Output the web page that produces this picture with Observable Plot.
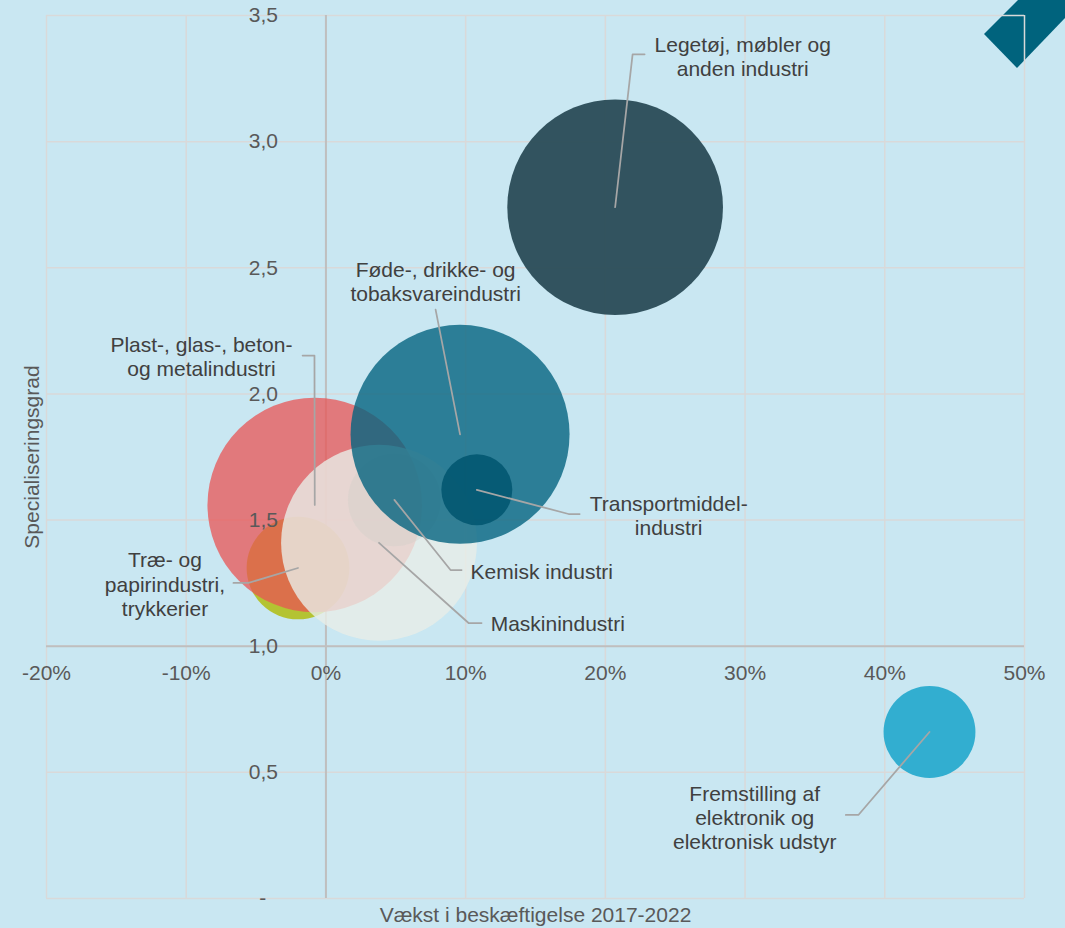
<!DOCTYPE html>
<html>
<head>
<meta charset="utf-8">
<script src="https://cdn.jsdelivr.net/npm/d3@7"></script>
<script src="https://cdn.jsdelivr.net/npm/@observablehq/plot@0.6"></script>
<style>
  body { margin: 0; background: #c9e7f2; }
  #wrap { position: relative; width: 1065px; height: 928px; background: #c9e7f2; overflow: hidden; }
  #logo { position: absolute; left: 0; top: 0; z-index: 0; }
  #chart { position: absolute; left: 0; top: 0; z-index: 1; }
</style>
</head>
<body>
<div id="wrap">
  <svg id="logo" width="1065" height="928"><polygon points="984,34 1018,0 1065,0 1065,18 1017,68" fill="#00637d"/></svg>
  <div id="chart"></div>
</div>
<script>
// ---- Data (drawing order) ----
const names = [
  "Legetøj, møbler og anden industri",
  "Træ- og papirindustri, trykkerier",
  "Plast-, glas-, beton- og metalindustri",
  "Maskinindustri",
  "Kemisk industri",
  "Føde-, drikke- og tobaksvareindustri",
  "Transportmiddelindustri",
  "Fremstilling af elektronik og elektronisk udstyr"
];
const vaekst = [20.7, -2.0, -0.8, 3.8, 4.9, 9.6, 10.8, 43.2];          // % growth in employment 2017-2022
const specialisering = [2.74, 1.31, 1.56, 1.41, 1.58, 1.84, 1.62, 0.66]; // specialisation degree
const beskaeftigelse = [97, 22, 96, 80, 18, 100, 10.5, 17.6];           // relative bubble size (employment)

const bubbleColors = [
  "rgba(44,77,88,0.96)",
  "rgba(180,195,50,1)",
  "rgba(232,84,84,0.75)",
  "rgba(232,237,231,0.8)",
  "rgba(205,205,200,0.35)",
  "rgba(5,100,128,0.8)",
  "rgba(0,85,110,0.85)",
  "rgba(50,174,208,1)"
];

const xTicks = [-20, -10, 0, 10, 20, 30, 40, 50];
const xTickLabels = ["-20%", "-10%", "0%", "10%", "20%", "30%", "40%", "50%"];
const yTicks = [0, 0.5, 1, 1.5, 2, 2.5, 3, 3.5];
const yTickLabels = ["-\u00a0\u00a0", "0,5", "1,0", "1,5", "2,0", "2,5", "3,0", "3,5"];

// annotation layout (data units): elbow point, short horizontal end, label anchor
const annotations = [
  {name: names[0], label: "Legetøj, møbler og\nanden industri", ex: 21.95, ey: 3.346, hx: 22.81, lx: 29.83, ly: 3.340, anchor: "middle"},
  {name: names[5], label: "Føde-, drikke- og\ntobaksvareindustri", ex: 7.85, ey: 2.334, hx: null, lx: 7.85, ly: 2.445, anchor: "middle"},
  {name: names[2], label: "Plast-, glas-, beton-\nog metalindustri", ex: -0.82, ey: 2.152, hx: -1.67, lx: -8.91, ly: 2.148, anchor: "middle"},
  {name: names[1], label: "Træ- og\npapirindustri,\ntrykkerier", ex: -5.54, ey: 1.251, hx: -6.62, lx: -11.52, ly: 1.247, anchor: "middle"},
  {name: names[4], label: "Kemisk industri", ex: 8.92, ey: 1.302, hx: 9.71, lx: 10.35, ly: 1.295, anchor: "start"},
  {name: names[3], label: "Maskinindustri", ex: 10.21, ey: 1.092, hx: 11.14, lx: 11.79, ly: 1.088, anchor: "start"},
  {name: names[6], label: "Transportmiddel-\nindustri", ex: 17.37, ey: 1.524, hx: 18.16, lx: 24.53, ly: 1.519, anchor: "middle"},
  {name: names[7], label: "Fremstilling af\nelektronik og\nelektronisk udstyr", ex: 38.11, ey: 0.331, hx: 37.21, lx: 30.69, ly: 0.323, anchor: "middle"}
];

// ---- Build tables ----
const bubbles = names.map((n, i) => ({name: n, vaekst: vaekst[i], spec: specialisering[i], besk: beskaeftigelse[i]}));
const leaders = [];
for (const a of annotations) {
  const i = names.indexOf(a.name);
  leaders.push({name: a.name, x: vaekst[i], y: specialisering[i]});
  leaders.push({name: a.name, x: a.ex, y: a.ey});
  if (a.hx != null) leaders.push({name: a.name, x: a.hx, y: a.ey});
}

const font = "'Liberation Sans', Arial, sans-serif";
const chart = Plot.plot({
  width: 1065,
  height: 928,
  marginLeft: 46,
  marginRight: 41,
  marginTop: 15,
  marginBottom: 30,
  x: {domain: [-20, 50], axis: null},
  y: {domain: [0, 3.5], axis: null},
  r: {domain: [0, 100], range: [0, 109.5]},
  color: {domain: names, range: bubbleColors},
  style: {background: "transparent", fontFamily: font, fontSize: "21px", overflow: "visible"},
  marks: [
    Plot.ruleX(xTicks, {y1: 0, y2: 3.5, stroke: "#d9d9d9", strokeWidth: 1.5}),
    Plot.ruleY(yTicks, {x1: -20, x2: 50, stroke: "#d9d9d9", strokeWidth: 1.5}),
    Plot.ruleX([0], {y1: 0, y2: 3.5, stroke: "#bfbfbf", strokeWidth: 2}),
    Plot.ruleY([1], {x1: -20, x2: 50, stroke: "#bfbfbf", strokeWidth: 2}),
    Plot.dot(bubbles, {x: "vaekst", y: "spec", r: "besk", fill: "name", sort: null}),
    Plot.line(leaders, {x: "x", y: "y", z: "name", stroke: "#a6a6a6", strokeWidth: 1.75}),
    Plot.text(yTicks, {x: 0, y: d => d, text: (d, i) => yTickLabels[i], dx: -48, textAnchor: "end", fill: "#595959", fontSize: 21}),
    Plot.text(xTicks, {x: d => d, y: 1, text: (d, i) => xTickLabels[i], dy: 27, fill: "#595959", fontSize: 21}),
    Plot.text(annotations.filter(a => a.anchor === "middle"), {x: "lx", y: "ly", text: "label", textAnchor: "middle", lineAnchor: "middle", lineHeight: 1.15, fill: "#404040", fontSize: 21}),
    Plot.text(annotations.filter(a => a.anchor === "start"), {x: "lx", y: "ly", text: "label", textAnchor: "start", lineAnchor: "middle", fill: "#404040", fontSize: 21}),
    Plot.text(["Vækst i beskæftigelse 2017-2022"], {frameAnchor: "bottom", dy: 17, textAnchor: "middle", lineAnchor: "middle", fill: "#595959", fontSize: 21}),
    Plot.text(["Specialiseringsgrad"], {frameAnchor: "left", dx: -14, rotate: -90, textAnchor: "middle", lineAnchor: "middle", fill: "#595959", fontSize: 21})
  ]
});
document.getElementById("chart").appendChild(chart);
</script>
</body>
</html>
